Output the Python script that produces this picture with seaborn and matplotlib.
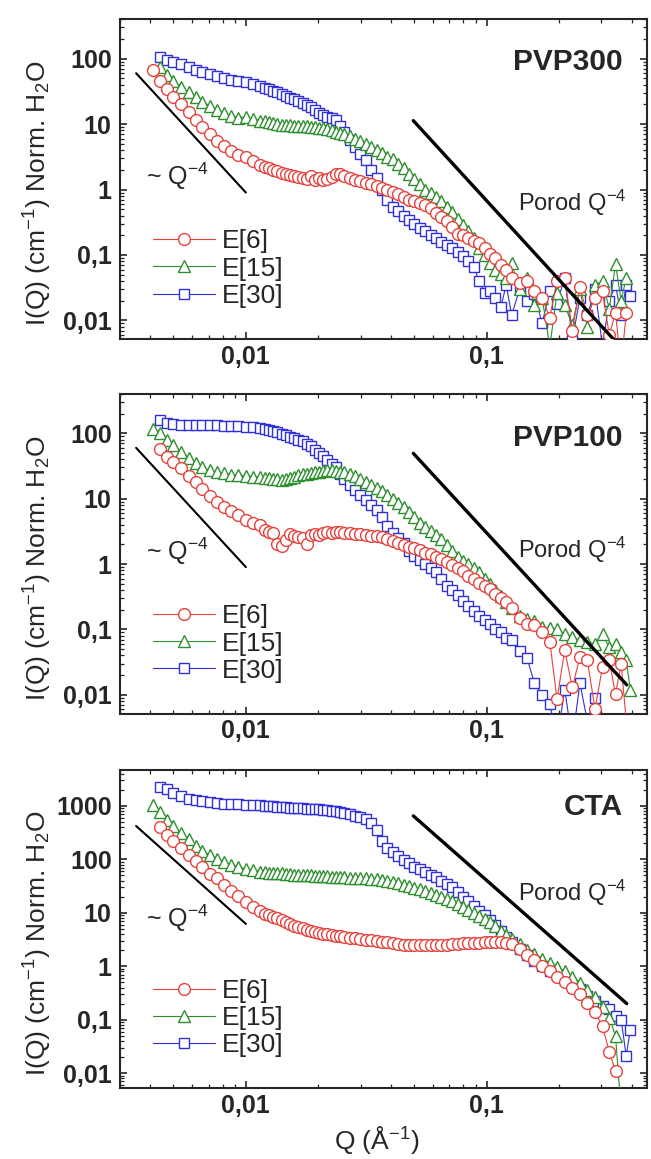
import numpy as np
import pandas as pd
import matplotlib
matplotlib.use('Agg')
import matplotlib.pyplot as plt
import seaborn as sns
from matplotlib.ticker import FixedLocator, FixedFormatter, LogLocator, NullFormatter

nan = np.nan

# common Q grid (1/A)
q = [0.0041, 0.0044, 0.0047, 0.0050, 0.0054, 0.0058, 0.0062, 0.0066, 0.0071, 0.0076, 0.0081, 0.0087, 0.0093, 0.0100, 0.0107, 0.0115,
     0.0120, 0.0125, 0.0130, 0.0135, 0.0141, 0.0147, 0.0153, 0.0159, 0.0165, 0.0172, 0.0179, 0.0186, 0.0194, 0.0202, 0.0210, 0.0218, 0.0227, 0.0236, 0.0246, 0.0256,
     0.0270, 0.0284, 0.0299, 0.0315, 0.0332, 0.0349, 0.0368, 0.0387, 0.0408, 0.0429, 0.0452, 0.0476, 0.0501, 0.0528, 0.0556, 0.0585, 0.0616, 0.0649, 0.0683, 0.0719,
     0.0758, 0.0798, 0.0840, 0.0885, 0.0932, 0.0981, 0.1033, 0.1088, 0.1146, 0.1206,
     0.127, 0.137, 0.147, 0.158, 0.170, 0.183, 0.196, 0.211, 0.227, 0.244, 0.262, 0.282, 0.303, 0.323, 0.343, 0.362, 0.380, 0.395]

# PVP300
pvp300_e6 = [66, 46, 34, 26, 20, 15.5, 11.5, 9.0, 7.0, 5.6, 4.6, 3.9, 3.4, 3.2, 2.7, 2.4,
             2.25, 2.1, 2.0, 1.9, 1.8, 1.7, 1.65, 1.6, 1.55, 1.5, 1.45, 1.6, 1.4, 1.5, 1.38, 1.45, 1.55, 1.7, 1.75, 1.6,
             1.5, 1.42, 1.35, 1.28, 1.2, 1.12, 1.05, 0.97, 0.92, 0.85, 0.78, 0.7, 0.66, 0.62, 0.58, 0.53, 0.44, 0.38, 0.33, 0.27,
             0.21, 0.2, 0.18, 0.165, 0.15, 0.13, 0.105, 0.09, 0.07, 0.058,
             0.045, 0.037, 0.04, 0.028, 0.022, 0.011, 0.04, 0.045, 0.007, 0.032, 0.012, 0.022, 0.028, 0.006, 0.013, 0.002, 0.013, nan]
pvp300_e15 = [nan, 75, 57, 46, 37, 30.5, 26, 22, 19, 16.5, 14.8, 13.5, 12.6, 12.8, 12.0, 11.3,
              11.0, 10.6, 10.3, 10.1, 9.8, 9.6, 9.8, 9.5, 9.4, 9.3, 9.3, 9.1, 8.9, 8.8, 8.6, 8.3, 8.0, 7.7, 7.3, 7.0,
              6.5, 6.0, 5.5, 5.0, 4.5, 4.0, 3.6, 3.2, 2.95, 2.5, 2.15, 1.75, 1.45, 1.2, 1.0, 0.9, 0.78, 0.66, 0.55, 0.45,
              0.36, 0.29, 0.23, 0.18, 0.13, 0.1, 0.075, 0.06, 0.052, 0.045,
              0.075, 0.03, 0.045, 0.017, 0.022, 0.004, 0.026, 0.017, 0.0085, 0.03, 0.008, 0.035, 0.04, 0.015, 0.072, 0.02, 0.045, nan]
pvp300_e30 = [nan, 105, 97, 90, 82, 74, 68, 63, 58, 54, 51, 48, 46, 44, 41, 38,
              36, 34, 32, 30.5, 29, 27, 25.5, 24, 22.5, 21, 19.5, 18, 16.5, 15, 14, 13, 12.2, 11.5, 9.5, 7.5,
              5.8, 4.4, 3.5, 2.8, 2.0, 1.5, 1.0, 0.7, 0.55, 0.47, 0.4, 0.34, 0.3, 0.26, 0.23, 0.2, 0.18, 0.16, 0.14, 0.13,
              0.11, 0.095, 0.08, 0.065, 0.04, 0.026, 0.028, 0.022, 0.016, 0.035,
              0.012, 0.03, 0.02, 0.025, 0.009, 0.028, 0.018, 0.045, 0.005, 0.022, 0.012, 0.03, 0.004, 0.02, 0.035, 0.012, 0.035, 0.024]

# PVP100
pvp100_e6 = [nan, 57, 44, 37, 29, 22.5, 18, 14, 11, 8.8, 7.4, 6.5, 5.7, 4.8, 4.3, 3.9,
             3.3, 3.1, 3.0, 2.0, 1.9, 2.3, 2.9, 2.7, 2.6, 2.5, 2.0, 2.8, 2.9, 2.8, 3.0, 3.05, 2.95, 3.1, 3.1, 3.0,
             2.95, 2.9, 2.85, 2.75, 2.7, 2.65, 2.55, 2.4, 2.25, 2.1, 1.95, 1.85, 1.75, 1.65, 1.5, 1.42, 1.3, 1.2, 1.08, 0.98,
             0.88, 0.78, 0.66, 0.6, 0.52, 0.46, 0.41, 0.35, 0.3, 0.26,
             0.21, 0.15, 0.12, 0.115, 0.09, 0.065, 0.0085, 0.048, 0.013, 0.038, 0.034, 0.006, 0.027, 0.034, 0.0102, 0.03, 0.004, nan]
pvp100_e15 = [116, 100, 80, 66, 52, 42, 35, 30, 27, 25.5, 24.3, 23.3, 22.7, 22.3, 21.8, 21.2,
              20.8, 20.5, 20.1, 19.7, 19.3, 19.8, 20.8, 21.8, 22.7, 23.5, 24.2, 24.8, 25.4, 26, 26.6, 27, 27, 26.7, 26, 25.3,
              23.8, 22.2, 20.2, 18.3, 16.3, 14.6, 13, 11.4, 10, 8.7, 7.4, 6.2, 5.2, 4.3, 3.7, 3.2, 2.8, 2.4, 1.95, 1.6,
              1.3, 1.12, 1.0, 0.88, 0.75, 0.6, 0.5, 0.4, 0.32, 0.26,
              0.21, 0.16, 0.145, 0.135, 0.11, 0.105, 0.1, 0.085, 0.078, 0.068, 0.065, 0.06, 0.085, 0.053, 0.06, 0.045, 0.034, 0.012]
pvp100_e30 = [nan, 160, 142, 138, 136, 135, 134, 134, 133, 132, 131, 130, 128, 126, 123, 119,
              115, 111, 107, 103, 99, 94, 89, 85, 80, 75, 69, 63, 56, 50, 45, 39, 34, 30, 24, 20,
              16, 13.8, 11.3, 9.4, 8.0, 6.8, 5.3, 3.8, 3.0, 2.5, 2.1, 1.6, 1.35, 1.15, 1.0, 0.88, 0.75, 0.6, 0.47, 0.4,
              0.34, 0.27, 0.23, 0.19, 0.16, 0.14, 0.12, 0.1, 0.09, 0.075,
              0.07, 0.047, 0.037, 0.015, 0.01, 0.0073, 0.002, 0.012, 0.002, 0.015, 0.004, 0.009, nan, nan, nan, nan, nan, nan]

# CTA
cta_e6 = [nan, 400, 290, 220, 160, 118, 92, 72, 54, 44, 33, 26, 20.5, 16, 13, 10.6,
          9.6, 9.0, 8.5, 8.0, 7.2, 6.6, 6.1, 5.7, 5.4, 5.1, 4.8, 4.6, 4.4, 4.25, 4.1, 4.0, 3.85, 3.75, 3.65, 3.55,
          3.45, 3.35, 3.25, 3.15, 3.1, 3.0, 2.9, 2.8, 2.7, 2.6, 2.55, 2.5, 2.47, 2.45, 2.45, 2.45, 2.47, 2.5, 2.55, 2.6,
          2.65, 2.7, 2.72, 2.75, 2.78, 2.8, 2.82, 2.82, 2.8, 2.72,
          2.6, 2.1, 1.65, 1.3, 1.0, 0.8, 0.64, 0.5, 0.4, 0.3, 0.21, 0.14, 0.075, 0.025, 0.011, nan, nan, nan]
cta_e15 = [1040, 760, 540, 420, 310, 235, 180, 145, 120, 102, 90, 80, 72, 66, 62, 59,
           57.5, 56.5, 55.5, 55, 54.5, 54, 53, 52, 51.5, 51, 50.5, 50, 49.5, 49, 48.5, 48, 47.5, 47, 46.5, 46,
           45.5, 45, 44.5, 44, 43, 42, 40.5, 39, 37.5, 35.5, 33.5, 31.5, 29.5, 27.5, 25.5, 23.5, 21.5, 19.8, 18, 16.3,
           14.6, 13, 11.5, 10, 8.8, 7.8, 6.6, 5.6, 4.6, 3.9,
           3.3, 2.6, 2.05, 1.7, 1.38, 1.15, 0.98, 0.8, 0.62, 0.48, 0.36, 0.27, 0.17, 0.11, 0.05, 0.002, nan, nan]
cta_e30 = [nan, 2300, 2050, 1750, 1500, 1370, 1280, 1210, 1160, 1130, 1100, 1080, 1065, 1055, 1040, 1020,
           1005, 995, 980, 970, 955, 945, 930, 915, 905, 895, 885, 875, 865, 855, 845, 830, 810, 790, 765, 740,
           700, 660, 620, 560, 470, 360, 220, 165, 140, 115, 97, 84, 73, 65, 58, 52, 46, 40, 35, 30,
           24, 20, 16.5, 13.5, 11, 9, 7.3, 5.8, 4.6, 3.6,
           2.8, 2.1, 1.6, 1.25, 1.0, 0.82, 0.68, 0.56, 0.45, 0.37, 0.28, 0.22, 0.18, 0.16, 0.12, 0.1, 0.021, 0.065]

# guide lines (slope -4)
guide_q = [0.0035, 0.01]
porod_q = [0.0496, 0.382]
guide_i = {'PVP300': [60, 0.9], 'PVP100': [60, 0.9], 'CTA': [420, 6.2]}
porod_i = {'PVP300': [11.3, 0.0031], 'PVP100': [49.4, 0.0142], 'CTA': [650, 0.2]}

labels = ['E[6]', 'E[15]', 'E[30]']
colors = {'E[6]': '#e8403a', 'E[15]': '#2e8f2e', 'E[30]': '#3030d8'}
markers = {'E[6]': ('o', 8.5), 'E[15]': ('^', 9), 'E[30]': ('s', 7.3)}

panels = [
    dict(name='PVP300', data=[pvp300_e6, pvp300_e15, pvp300_e30], ylim=(0.0052, 404),
         yticks=[0.01, 0.1, 1, 10, 100], rect=[0.1843, 0.7075, 0.8095, 0.2761],
         title_y=0.8416, porod_y=0.401, q4_y=0.482),
    dict(name='PVP100', data=[pvp100_e6, pvp100_e15, pvp100_e30], ylim=(0.0051, 400),
         yticks=[0.01, 0.1, 1, 10, 100], rect=[0.1843, 0.3840, 0.8095, 0.2761],
         title_y=0.838, porod_y=0.487, q4_y=0.482),
    dict(name='CTA', data=[cta_e6, cta_e15, cta_e30], ylim=(0.0053, 4700),
         yticks=[0.01, 0.1, 1, 10, 100, 1000], rect=[0.1843, 0.0613, 0.8095, 0.2744],
         title_y=0.858, porod_y=0.589, q4_y=0.507),
]


def fmt(v):
    return ('%g' % v).replace('.', ',')


sns.set_style('ticks')
plt.rcParams['font.family'] = ['Liberation Sans', 'DejaVu Sans']
plt.rcParams['mathtext.fontset'] = 'custom'
plt.rcParams['mathtext.rm'] = 'Liberation Sans'
plt.rcParams['mathtext.it'] = 'Liberation Sans:italic'
plt.rcParams['mathtext.bf'] = 'Liberation Sans:bold'
plt.rcParams['axes.linewidth'] = 1.5

fig = plt.figure(figsize=(6.51, 11.59), dpi=100)

for p in panels:
    ax = fig.add_axes(p['rect'])
    ax.set_xscale('log')
    ax.set_yscale('log')
    handles = {}
    # blue first, red on top
    for lab, vals, z in zip(labels[::-1], p['data'][::-1], [3, 4, 5]):
        d = pd.DataFrame({'Q': q, 'I': vals}).dropna()
        mk, ms = markers[lab]
        sns.lineplot(data=d, x='Q', y='I', ax=ax, color=colors[lab], marker=mk, markersize=ms,
                     mfc='white', mec=colors[lab], mew=1.0, lw=0.8, zorder=z,
                     estimator=None, sort=False)
        handles[lab] = ax.lines[-1]
    sns.lineplot(x=guide_q, y=guide_i[p['name']], ax=ax, color='black', lw=1.5, estimator=None, zorder=6)
    sns.lineplot(x=porod_q, y=porod_i[p['name']], ax=ax, color='black', lw=2.4, estimator=None, zorder=6)

    ax.set_xlim(0.003, 0.4634)
    ax.set_ylim(*p['ylim'])
    ax.xaxis.set_major_locator(FixedLocator([0.01, 0.1]))
    ax.xaxis.set_major_formatter(FixedFormatter(['0,01', '0,1']))
    ax.yaxis.set_major_locator(FixedLocator(p['yticks']))
    ax.yaxis.set_major_formatter(FixedFormatter([fmt(v) for v in p['yticks']]))
    for axis in (ax.xaxis, ax.yaxis):
        axis.set_minor_locator(LogLocator(base=10, subs=(2, 3, 4, 5, 6, 7, 8, 9), numticks=30))
        axis.set_minor_formatter(NullFormatter())
    ax.tick_params(which='both', direction='in', top=True, right=True)
    ax.tick_params(which='major', length=5, width=1.2, labelsize=18)
    ax.tick_params(which='minor', length=2.8, width=0.9)
    ax.tick_params(axis='y', which='major', pad=6)
    ax.tick_params(axis='x', which='major', pad=4)
    for t in ax.get_xticklabels() + ax.get_yticklabels():
        t.set_fontweight('bold')

    ax.set_ylabel(r'I(Q) (cm$^{-1}$) Norm. H$_2$O', fontsize=19)
    ax.yaxis.set_label_coords(-0.125, 0.455)
    ax.set_xlabel('')

    ax.text(0.954, p['title_y'], p['name'], transform=ax.transAxes, ha='right', va='baseline',
            fontsize=21.5, fontweight='bold')
    ax.text(0.756, p['porod_y'], r'Porod Q$^{-4}$', transform=ax.transAxes, ha='left', va='baseline',
            fontsize=17)
    ax.text(0.05, p['q4_y'], r'~ Q$^{-4}$', transform=ax.transAxes, ha='left', va='baseline',
            fontsize=18)

    ax.legend(handles=[handles[l] for l in labels], labels=labels, loc='center left',
              bbox_to_anchor=(0.0626, 0.22), frameon=False, fontsize=19, handlelength=2.35,
              handletextpad=0.27, labelspacing=0.12, borderpad=0, borderaxespad=0)

    if p['name'] == 'CTA':
        ax.set_xlabel(r'Q (Å$^{-1}$)', fontsize=19)
        ax.xaxis.set_label_coords(0.488, -0.113)

fig.savefig('out.png', dpi=100)
plt.close(fig)
